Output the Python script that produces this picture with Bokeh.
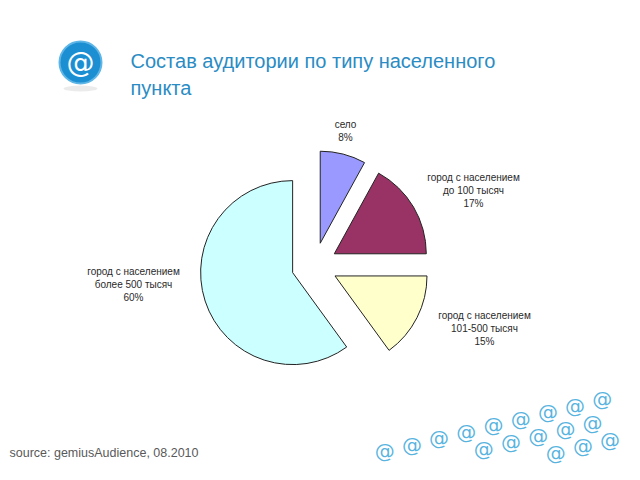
import math
from bokeh.plotting import figure
from bokeh.models import Range1d, ColumnDataSource
from bokeh.core.properties import value
from bokeh.embed import file_html
from bokeh.resources import INLINE

# ---- data ----
categories = ["село",
              "город с населением\nдо 100 тысяч",
              "город с населением\n101-500 тысяч",
              "город с населением\nболее 500 тысяч"]
shares = [8, 17, 15, 60]
colors = ["#9999FF", "#993366", "#FFFFCC", "#CCFFFF"]
title_text = "Состав аудитории по типу населенного\nпункта"
source_text = "source: gemiusAudience, 08.2010"

# ---- layout (pixel-like coordinates, y measured from top) ----
W, H = 640, 480
def Y(py):
    return H - py

p = figure(width=624, height=464, x_range=Range1d(0, 624), y_range=Range1d(16, 480),
           output_backend="svg", toolbar_location=None, min_border=0,
           x_axis_location=None, y_axis_location=None)
p.grid.visible = False
p.outline_line_color = None
p.background_fill_color = "white"
p.border_fill_color = "white"

# ---- exploded pie ----
cx, cy, R, explode = 314, Y(265), 92, 23
total = sum(shares)
starts, ends, xs, ys = [], [], [], []
acc = 0.0
for s in shares:
    t1 = acc / total * 360.0
    t2 = (acc + s) / total * 360.0
    acc += s
    mid = math.radians(90 - (t1 + t2) / 2)
    starts.append(math.radians(90 - t2))
    ends.append(math.radians(90 - t1))
    xs.append(cx + explode * math.cos(mid))
    ys.append(cy + explode * math.sin(mid))

src = ColumnDataSource(dict(x=xs, y=ys, start=starts, end=ends, color=colors))
p.wedge(x="x", y="y", radius=R, start_angle="start", end_angle="end",
        fill_color="color", line_color="#222222", line_width=1, source=src)

# ---- slice labels ----
label_pos = [(345, 130.5), (473, 190), (484, 328), (133, 284)]
labels = [f"{c}\n{s}%" for c, s in zip(categories, shares)]
lsrc = ColumnDataSource(dict(x=[a for a, b in label_pos], y=[Y(b) for a, b in label_pos], text=labels))
p.text(x="x", y="y", text="text", source=lsrc, text_align="center", text_baseline="middle",
       text_font=value("Liberation Sans"), text_font_size="10px", text_color="#2a2a2a",
       text_line_height=1.15)

# ---- title ----
p.text(x=[130], y=[Y(74)], text=[title_text], text_align="left", text_baseline="middle",
       text_font=value("Liberation Sans"), text_font_size="20px", text_color="#2b8cc4",
       text_line_height=1.25)

# ---- logo ----
p.ellipse(x=[80], y=[Y(88)], width=34, height=6, fill_color="#cccccc", fill_alpha=0.4, line_color=None)
p.circle(x=[80], y=[Y(62)], radius=21, fill_color="#1c8fd3", line_color="#5fb6e6", line_width=2)
p.text(x=[80], y=[Y(62)], text=["@"], text_align="center", text_baseline="middle",
       text_font=value("DejaVu Sans"), text_font_size="28px", text_color="white")

# ---- source ----
p.text(x=[9], y=[Y(452)], text=[source_text], text_align="left", text_baseline="middle",
       text_font=value("Liberation Sans"), text_font_size="12.5px", text_color="#595959")

# ---- decorative @ pattern ----
ax, ay = -27.2, 6.5
bx, by = 17.5, 17.0
px, py_ = [], []
for j in range(0, 7):
    for i in range(-6, 20):
        x = 629 + ax * i + bx * j
        yy = 392 + ay * i + by * j
        if 225 <= x <= 612 and 380 <= yy <= 452:
            px.append(x)
            py_.append(Y(yy))
p.text(x=px, y=py_, text=["@"] * len(px), text_align="center", text_baseline="middle",
       text_font=value("DejaVu Sans"), text_font_size="20px", text_color="#3aa7da", text_alpha=0.85)

open("out.html", "w").write(file_html(p, INLINE))
